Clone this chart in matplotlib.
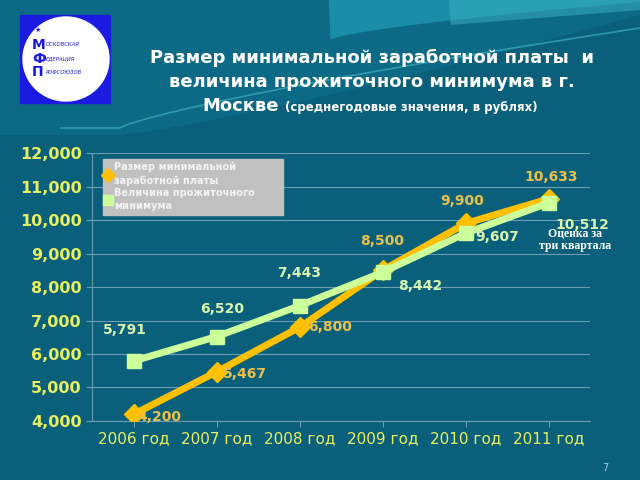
import matplotlib
matplotlib.use("Agg")
import matplotlib.pyplot as plt
import numpy as np
from matplotlib.patches import Rectangle, Ellipse

years = ["2006 год", "2007 год", "2008 год", "2009 год", "2010 год", "2011 год"]
min_wage = [4200, 5467, 6800, 8500, 9900, 10633]
subsistence = [5791, 6520, 7443, 8442, 9607, 10512]
series_names = ["Размер минимальной\nзаработной платы", "Величина прожиточного\nминимума"]

BG = "#0a5f7b"
ORANGE = "#FFC000"
ORANGE_TXT = "#E9C04A"
GREEN = "#CCFF99"
GREEN_TXT = "#D8F5B0"
TICK = "#E8F060"

fig = plt.figure(figsize=(6.4, 4.8), dpi=100)
fig.patch.set_facecolor(BG)

# decorative background swoosh at the top
bg = fig.add_axes([0, 0, 1, 1], zorder=-10)
bg.set_xlim(0, 640); bg.set_ylim(480, 0); bg.axis("off")
xs = np.linspace(0, 640, 400)
t = np.clip((xs - 120) / 520, 0, 1)
top1 = 135 - 120 * t ** 1.2
bg.fill_between(xs, 0, top1, color="#0d6a86", lw=0)
t2 = np.clip((xs - 330) / 310, 0, 1)
top2 = 40 - 38 * t2 ** 0.7
bg.fill_between(xs, 0, np.where(xs > 330, top2, 0), color="#1a8ea6", lw=0)
t3 = np.clip((xs - 450) / 190, 0, 1)
top3 = 15 - 15 * t3
bg.fill_between(xs, 0, np.where(xs > 450, top3 + 10, 0), color="#3bb3c4", lw=0, alpha=0.5)
wave = 128 - 100 * t ** 0.8
bg.plot(xs[xs > 60], wave[xs > 60], color="#39a6b8", lw=1.2, alpha=0.8)

# logo
bg.add_patch(Rectangle((20, 15), 90, 88, color="#1a1ae0", zorder=2))
bg.add_patch(Ellipse((66, 59), 86, 84, color="white", zorder=3))
bg.text(38, 30, "★", color="#1a1ae0", fontsize=5, zorder=4, ha="center", va="center")
for yy, big, small in [(45, "М", "ОСКОВСКАЯ"), (59, "Ф", "ЕДЕРАЦИЯ"), (72, "П", "РОФСОЮЗОВ")]:
    bg.text(32, yy, big, color="#1a1ae0", fontsize=10, fontweight="bold", zorder=4, va="center")
    bg.text(46, yy, small, color="#1a1ae0", fontsize=3.8, fontstyle="italic", zorder=4, va="center")

# title
bg.text(372, 58, "Размер минимальной заработной платы  и", color="white",
        fontsize=13, fontweight="bold", ha="center", va="center")
bg.text(372, 82, "величина прожиточного минимума в г.", color="white",
        fontsize=13, fontweight="bold", ha="center", va="center")
bg.text(202, 106, "Москве", color="white", fontsize=13, fontweight="bold", ha="left", va="center")
bg.text(285, 108, "(среднегодовые значения, в рублях)", color="white", fontsize=8.5,
        fontweight="bold", ha="left", va="center")
bg.text(605, 468, "7", color="#9fd0e0", fontsize=7, ha="center", va="center")

ax = fig.add_axes([0.144, 0.123, 0.778, 0.558])
ax.set_facecolor("none")
x = np.arange(len(years))
ax.plot(x, min_wage, color=ORANGE, lw=5, marker="D", ms=10, zorder=3, label=series_names[0])
ax.plot(x, subsistence, color=GREEN, lw=5, marker="s", ms=10, zorder=4, label=series_names[1])
ax.set_xlim(-0.5, 5.5)
ax.set_ylim(4000, 12000)
ax.yaxis.grid(True, color="#6a9fb3", lw=0.8)
ax.set_axisbelow(True)
for s in ["top", "right"]:
    ax.spines[s].set_visible(False)
for s in ["left", "bottom"]:
    ax.spines[s].set_color("#6a9fb3")
ax.tick_params(colors="#6a9fb3", length=4)
ax.set_yticks(range(4000, 12001, 1000))
ax.set_yticklabels([f"{v:,}" for v in range(4000, 12001, 1000)], color=TICK,
                   fontsize=11.5, fontweight="bold")
ax.set_xticks(x)
ax.set_xticklabels(years, color=TICK, fontsize=11)

o_off = [(26, -3), (28, -2), (30, 0), (0, 29), (-3, 22), (3, 22)]
for xi, v, (dx, dy) in zip(x, min_wage, o_off):
    ax.annotate(f"{v:,}", (xi, v), xytext=(dx, dy), textcoords="offset pixels",
                color=ORANGE_TXT, fontsize=10, fontweight="bold", ha="center", va="center", zorder=6)
g_off = [(-9, 31), (5, 28), (-1, 33), (38, -14), (32, -4), (34, -22)]
for xi, v, (dx, dy) in zip(x, subsistence, g_off):
    ax.annotate(f"{v:,}", (xi, v), xytext=(dx, dy), textcoords="offset pixels",
                color=GREEN_TXT, fontsize=10, fontweight="bold", ha="center", va="center", zorder=6)

ax.annotate("Оценка за\nтри квартала", (5, 10512), xytext=(26, -37), textcoords="offset pixels",
            color="white", fontsize=8.5, fontweight="bold", family="Liberation Serif",
            ha="center", va="center", zorder=7, linespacing=1.0)

leg = ax.legend(loc="upper left", bbox_to_anchor=(0.022, 0.978, 0.361, 0.0), mode="expand",
                frameon=True, fancybox=False,
                facecolor="#c0c0c0", edgecolor="#c0c0c0", framealpha=1,
                prop={"size": 7, "weight": "bold"}, handlelength=0.4, handletextpad=0.4,
                borderpad=0.35, labelspacing=0.25, borderaxespad=0)
for tx in leg.get_texts():
    tx.set_color("#f4f4f4")
    tx.set_linespacing(1.35)
for h in leg.legend_handles:
    h.set_linewidth(0)
    h.set_markersize(7)

fig.savefig("out.png", dpi=100, facecolor=fig.get_facecolor())
